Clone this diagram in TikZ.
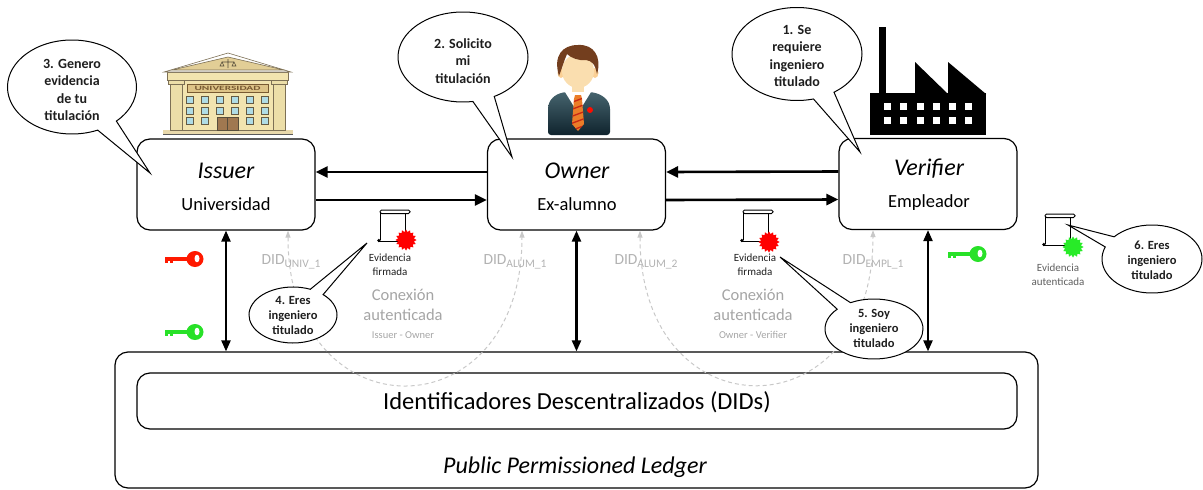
\documentclass[tikz,border=0pt]{standalone}
\usepackage{fontspec}
\setmainfont{Carlito}
\usetikzlibrary{shapes.geometric,shapes.callouts,arrows.meta}

\definecolor{didgray}{RGB}{200,200,200}
\definecolor{lblgray}{RGB}{178,178,178}
\definecolor{subgray}{RGB}{165,165,165}
\definecolor{evgray}{RGB}{95,95,95}
\definecolor{txtdark}{RGB}{30,30,30}
\definecolor{sealred}{RGB}{255,0,0}
\definecolor{sealgreen}{RGB}{40,235,40}
\definecolor{keyred}{RGB}{255,25,0}
\definecolor{keygreen}{RGB}{40,225,40}
\definecolor{wallc}{RGB}{242,228,175}
\definecolor{pedc}{RGB}{226,206,150}
\definecolor{colc}{RGB}{236,222,168}
\definecolor{bldline}{RGB}{125,112,85}
\definecolor{winc}{RGB}{175,220,230}
\definecolor{doorc}{RGB}{160,120,80}
\definecolor{signc}{RGB}{222,196,135}
\definecolor{signtxt}{RGB}{120,90,50}
\definecolor{skin}{RGB}{250,222,175}
\definecolor{hairc}{RGB}{115,62,30}
\definecolor{suittop}{RGB}{70,100,110}
\definecolor{suitbot}{RGB}{15,35,45}
\definecolor{tiec}{RGB}{235,125,40}
\definecolor{tiestripe}{RGB}{200,40,20}

% DID name with a lowered, slightly smaller index
\newcommand{\didname}[1]{DID\raisebox{-3.5pt}{\fontsize{11.5}{12}\selectfont #1}}

\tikzset{
  actor/.style={draw, line width=1.2pt, rounded corners=13pt, minimum width=178pt, minimum height=91pt, inner sep=0pt},
  role/.style={font=\fontsize{24}{28}\selectfont\itshape, inner sep=0pt},
  org/.style={font=\fontsize{18.5}{22}\selectfont, inner sep=0pt},
  flow/.style={line width=2.6pt, -{Triangle[length=12pt,width=11pt]}},
  dflow/.style={line width=2.2pt, {Triangle[length=11pt,width=9pt]}-{Triangle[length=11pt,width=9pt]}},
  didarc/.style={draw=didgray, line width=1pt, dash pattern=on 4pt off 3pt,
    {Triangle[length=7pt,width=5pt]}-{Triangle[length=7pt,width=5pt]}},
  didlbl/.style={text=lblgray, font=\fontsize{15.5}{18}\selectfont, inner sep=0pt},
  connlbl/.style={text=subgray, font=\fontsize{16.5}{20}\selectfont, align=center, inner sep=0pt},
  connsub/.style={text=subgray, font=\fontsize{10.5}{12}\selectfont, inner sep=0pt},
  evlbl/.style={text=txtdark, font=\fontsize{11}{14}\selectfont, align=center, inner sep=0pt},
  seal/.style={star, star points=16, star point ratio=1.3, minimum size=21pt, inner sep=0pt},
  bubble/.style={ellipse callout, draw, fill=white, line width=1pt, inner sep=0pt, callout pointer arc=20},
  bubtxt/.style={text=txtdark, font=\bfseries\fontsize{14}{17.5}\selectfont, align=center, inner sep=0pt},
  smalltxt/.style={text=txtdark, font=\bfseries\fontsize{12.5}{15}\selectfont, align=center, inner sep=0pt},
  ledgerbox/.style={draw, line width=1.2pt, rounded corners=13pt, inner sep=0pt},
  bld/.style={draw=bldline, line width=0.6pt},
  % rolled document
  docscroll/.pic={
    \draw[line width=1pt] (3,2) -- (3,30);
    \draw[line width=1pt] (28,3) -- (28,30);
    \draw[line width=1pt, rounded corners=1.5pt, fill=white] (3,0) rectangle (33,3.5);
    \draw[line width=1pt] (1,31) -- (28,31);
    \fill (1.8,30.5) circle (1.8);
  },
  % key, origin at the centre of the bow
  keypic/.pic={
    \fill (-30,-2) rectangle (-5,2);
    \fill (-30,2) rectangle (-27,4);
    \fill (-25,2) rectangle (-22,3.6);
    \fill (0,0) ellipse (8.5 and 8);
    \fill[white] (2,-0.5) ellipse (2.5 and 3.8);
  }
}

\begin{document}
\begin{tikzpicture}[x=1pt,y=-1pt]
\useasboundingbox (0,0) rectangle (1203,490);

% ---------- university building ----------
\fill[pedc!80!white] (163,130) rectangle (293,134);
\draw[draw=gray!70!black, line width=0.8pt] (163,134) -- (293,134);
\draw[bld, fill=wallc] (180,80) rectangle (275,130);
\draw[bld, fill=wallc] (167,72) rectangle (288,80);
\draw[bld, fill=white] (164,72) -- (228,53) -- (291,72) -- cycle;
\draw[bld, fill=pedc] (172,70) -- (228,57) -- (284,70) -- cycle;
\draw[bldline!70!black, line width=0.6pt] (228,59) -- (228,68) (222,62) -- (234,62)
  (222,62) -- (220,66) -- (224,66) -- cycle (234,62) -- (232,66) -- (236,66) -- cycle;
\draw[bld, fill=colc] (170,84) rectangle (182,130);
\draw[bld, fill=colc] (168,80) rectangle (184,84);
\draw[bld, fill=colc] (273,84) rectangle (285,130);
\draw[bld, fill=colc] (271,80) rectangle (287,84);
\draw[draw=signtxt, line width=0.6pt, fill=signc] (187,84) rectangle (268,92);
\node[text=signtxt, font=\bfseries\fontsize{6.5}{6.5}\selectfont, inner sep=0pt] (signlbl) at (227.5,88.2)
  {\scalebox{1.75}[1]{UNIVERSIDAD}};
\foreach \wx in {190,205,220,235,250,265}{
  \foreach \wy in {100,111}{
    \draw[draw=bldline!80!black, line width=0.5pt, fill=winc] (\wx-3.5,\wy-3.5) rectangle (\wx+3.5,\wy+3.5);
  }
}
\foreach \wx in {190,205,250,265}{
  \draw[draw=bldline!80!black, line width=0.5pt, fill=winc] (\wx-3.5,117.5) rectangle (\wx+3.5,124.5);
}
\draw[draw=bldline!70!black, line width=0.6pt, fill=doorc] (217,117) rectangle (238,130);
\draw[draw=bldline!70!black, line width=0.5pt] (227.5,117) -- (227.5,130);

% ---------- graduate ----------
\shade[top color=suittop, bottom color=suitbot, rounded corners=3pt]
  (548,135) -- (548,112) .. controls (548,100) and (555,94) .. (566,92) -- (590,92)
  .. controls (602,94) and (610,100) .. (610,112) -- (610,135) -- cycle;
\fill[skin] (572,82) rectangle (584,96);
\fill[white] (565,92) -- (591,92) -- (578,113) -- cycle;
\begin{scope}
  \clip (575,95) -- (581,95) -- (582,99) -- (584,124) -- (578,131) -- (572,124) -- (574,99) -- cycle;
  \fill[tiec] (570,90) rectangle (586,132);
  \foreach \ty in {100,107,114,121,128}{
    \draw[tiestripe, line width=1.3pt] (570,\ty+3) -- (586,\ty-3);
  }
\end{scope}
\fill[red!90!orange] (590,110) circle (3);
\fill[skin!85!orange] (561,73) ellipse (3.5 and 5);
\fill[skin!85!orange] (595,73) ellipse (3.5 and 5);
\fill[skin] (578,71) ellipse (16 and 17);
\fill[hairc] (559,76) .. controls (553,56) and (562,45) .. (578,45)
  .. controls (594,44) and (602,57) .. (597,74)
  .. controls (595,64) and (592,61) .. (586,60)
  .. controls (579,61) and (571,58) .. (567,54)
  .. controls (564,61) and (562,68) .. (559,76) -- cycle;

% ---------- factory ----------
\fill (879,27) rectangle (886,94);
\fill (870,93) rectangle (986,135);
\fill (915,94) -- (915,62) -- (948,94) -- cycle;
\fill (948,94) -- (948,62) -- (986,94) -- cycle;
\foreach \fx in {884,900,917,933,949,965}{
  \fill[white] (\fx,103) rectangle (\fx+7,110);
  \fill[white] (\fx,117) rectangle (\fx+7,124);
}

% ---------- actors ----------
\node[actor] (issuer) at (226,184.5) {};
\node[actor] (owner) at (576.5,184.5) {};
\node[actor] (verifier) at (928,184) {};
\node[role] (issuerT) at (226,171) {Issuer};
\node[org] (issuerS) at (226,204) {Universidad};
\node[role] (ownerT) at (577,171) {Owner};
\node[org] (ownerS) at (577,204) {Ex-alumno};
\node[role] (verifierT) at (929,169) {Verifier};
\node[org] (verifierS) at (929,203) {Empleador};

% ---------- ledger ----------
\node[ledgerbox, minimum width=923pt, minimum height=136pt] (ledger) at (576.5,420) {};
\node[ledgerbox, minimum width=880pt, minimum height=56pt] (dids) at (577,401) {};
\node[font=\fontsize{24.5}{28}\selectfont, inner sep=0pt] (didstxt) at (577,402)
  {Identificadores Descentralizados (DIDs)};
\node[font=\fontsize{24}{28}\selectfont\itshape, inner sep=0pt] (pplTxt) at (575,467)
  {Public Permissioned Ledger};

% ---------- messages between actors ----------
\draw[flow] ([yshift=12.5pt]owner.west) -- ([yshift=12.5pt]issuer.east);
\draw[flow] ([yshift=-15.5pt]issuer.east) -- ([yshift=-15.5pt]owner.west);
\draw[flow] ([yshift=12.5pt]verifier.west) -- ([yshift=12.5pt]owner.east);
\draw[flow] ([yshift=-15.5pt]owner.east) -- ([yshift=-15.5pt]verifier.west);

\draw[dflow] (issuer.south) -- (issuer.south |- ledger.north);
\draw[dflow] (owner.south) -- (owner.south |- ledger.north);
\draw[dflow] (verifier.south) -- (verifier.south |- ledger.north);

% ---------- DID connections ----------
\draw[didarc] ([xshift=62pt]issuer.south) .. controls +(0,205) and +(0,205) .. ([xshift=-54.5pt]owner.south);
\draw[didarc] ([xshift=63.5pt]owner.south) .. controls +(0,205) and +(0,205) .. ([xshift=-55pt]verifier.south);

\node[didlbl] (didU) at (291,262) {\didname{UNIV\_1}};
\node[didlbl] (didA1) at (515,262) {\didname{ALUM\_1}};
\node[didlbl] (didA2) at (646,262) {\didname{ALUM\_2}};
\node[didlbl] (didE) at (873,262) {\didname{EMPL\_1}};

\node[connlbl] (conn1) at (403,305) {Conexión\\autenticada};
\node[connsub] (conn1s) at (403,335) {Issuer - Owner};
\node[connlbl] (conn2) at (753,305) {Conexión\\autenticada};
\node[connsub] (conn2s) at (753,335) {Owner - Verifier};

% ---------- keys ----------
\pic[fill=keyred] (keyR) at (195,259) {keypic};
\pic[fill=keygreen] (keyG) at (195,332) {keypic};
\pic[fill=keygreen] (keyV) at (978,254) {keypic};

% ---------- credentials ----------
\pic (doc1) at (377,210) {docscroll};
\node[seal, fill=sealred] (seal1) at (406,240) {};
\node[evlbl] (ev1) at (390,265) {Evidencia\\firmada};
\pic (doc2) at (740,210) {docscroll};
\node[seal, fill=sealred] (seal2) at (769,242) {};
\node[evlbl] (ev2) at (755,265) {Evidencia\\firmada};
\pic (doc3) at (1042,214) {docscroll};
\node[seal, fill=sealgreen] (seal3) at (1073,247) {};
\node[evlbl, text=evgray] (ev3) at (1058,275) {Evidencia\\autenticada};

% ---------- speech bubbles ----------
\coordinate (tip1) at (860,152);
\coordinate (tip2) at (512,157);
\coordinate (tip3) at (150,173);
\coordinate (tip4) at (367,243);
\coordinate (tip5) at (780,257);
\coordinate (tip6) at (1068,225);

\node[bubble, minimum width=130pt, minimum height=93pt, callout absolute pointer={(tip1)}] (b1) at (797,54) {};
\node[bubtxt] (b1t) at (797,56) {1. Se\\requiere\\ingeniero\\titulado};

\node[bubble, minimum width=130pt, minimum height=90pt, callout absolute pointer={(tip2)}] (b2) at (463,57) {};
\node[bubtxt] (b2t) at (463,61) {2. Solicito\\mi\\titulación};

\node[bubble, minimum width=129pt, minimum height=94pt, callout absolute pointer={(tip3)}] (b3) at (72,87) {};
\node[bubtxt] (b3t) at (72,90) {3. Genero\\evidencia\\de tu\\titulación};

\node[bubble, minimum width=88pt, minimum height=56pt, callout absolute pointer={(tip4)}] (b4) at (293,315) {};
\node[smalltxt] (b4t) at (293,315) {4. Eres\\ingeniero\\titulado};

\node[bubble, minimum width=98pt, minimum height=60pt, callout absolute pointer={(tip5)}] (b5) at (874,329) {};
\node[smalltxt] (b5t) at (874,328) {5. Soy\\ingeniero\\titulado};

\node[bubble, minimum width=100pt, minimum height=68pt, callout absolute pointer={(tip6)}] (b6) at (1152,259) {};
\node[smalltxt] (b6t) at (1152,260) {6. Eres\\ingeniero\\titulado};

\end{tikzpicture}
\end{document}
